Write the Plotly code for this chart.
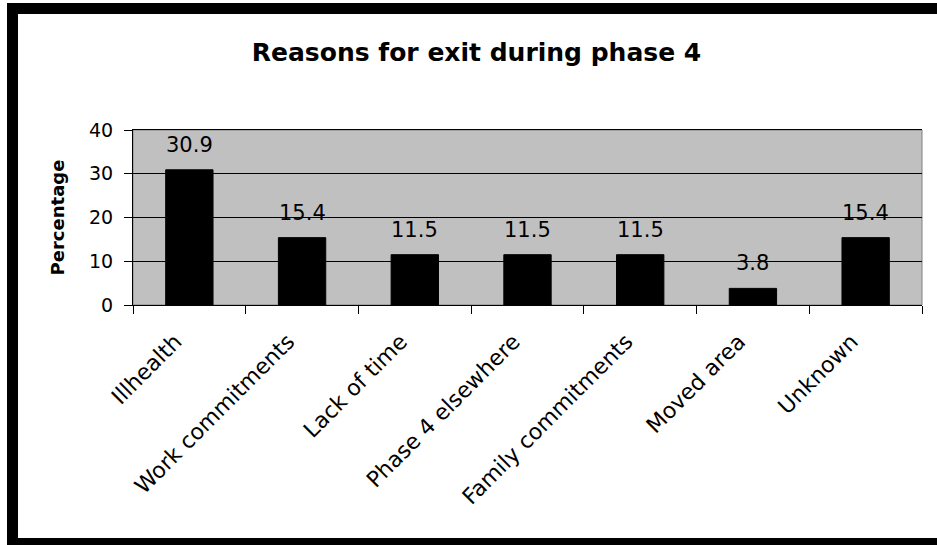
import plotly.graph_objects as go

categories = ["Illhealth", "Work commitments", "Lack of time", "Phase 4 elsewhere",
              "Family commitments", "Moved area", "Unknown"]
percentages = [30.9, 15.4, 11.5, 11.5, 11.5, 3.8, 15.4]
y_ticks = [0, 10, 20, 30, 40]
title_text = "Reasons for exit during phase 4"
y_title = "Percentage"

W, H = 937, 545
L, R, T, B = 133, 15, 130, 240
PW, PH = W - L - R, H - T - B
FONT = "DejaVu Sans"


def px_x(px):
    return (px - L) / PW


def px_y(py):
    return (H - B - py) / PH


fig = go.Figure()
fig.add_trace(go.Bar(
    x=categories, y=percentages,
    marker=dict(color="black", line=dict(color="black", width=1)),
    width=0.42, showlegend=False, hoverinfo="x+y",
))

annotations = []
for c, v in zip(categories, percentages):
    annotations.append(dict(
        x=c, y=v, xref="x", yref="y", text=f"{v:.1f}", showarrow=False,
        yanchor="bottom", yshift=11,
        font=dict(family=FONT, size=21, color="black"),
    ))

shapes = [
    # plot-area frame (grey right edge)
    dict(type="rect", xref="paper", yref="paper", x0=0, x1=1, y0=0, y1=1,
         line=dict(color="#808080", width=1), layer="below"),
    # outer black frame of the chart
    dict(type="rect", xref="paper", yref="paper", x0=px_x(7), x1=px_x(18),
         y0=px_y(560), y1=px_y(3), fillcolor="black", line=dict(width=0)),
    dict(type="rect", xref="paper", yref="paper", x0=px_x(7), x1=px_x(960),
         y0=px_y(14), y1=px_y(3), fillcolor="black", line=dict(width=0)),
    dict(type="rect", xref="paper", yref="paper", x0=px_x(7), x1=px_x(960),
         y0=px_y(560), y1=px_y(538), fillcolor="black", line=dict(width=0)),
]

fig.update_layout(
    width=W, height=H,
    margin=dict(l=L, r=R, t=T, b=B, autoexpand=False),
    paper_bgcolor="white", plot_bgcolor="#C0C0C0",
    font=dict(family=FONT, color="black"),
    title=dict(text=f"<b>{title_text}</b>", x=476.5 / W, xref="container", xanchor="center",
               y=1 - 52.5 / H, yref="container", yanchor="middle",
               font=dict(family=FONT, size=25, color="black")),
    bargap=0.58,
    annotations=annotations,
    shapes=shapes,
    showlegend=False,
)
fig.update_xaxes(
    type="category", tickangle=-45, tickson="boundaries",
    ticks="outside", ticklen=8, tickwidth=1, tickcolor="black",
    showline=True, linecolor="black", linewidth=1, mirror=True,
    showgrid=False, ticklabelstandoff=14, ticklabelshift=-14,
    tickfont=dict(family=FONT, size=22, color="black"),
)
fig.update_yaxes(
    range=[0, 40], tickvals=y_ticks, ticks="outside", ticklen=8, tickwidth=1,
    tickcolor="black", showline=True, linecolor="black", linewidth=1,
    showgrid=True, gridcolor="black", gridwidth=1, zeroline=False,
    ticklabelstandoff=7,
    tickfont=dict(family=FONT, size=19, color="black"),
    title=dict(text=f"<b>{y_title}</b>", standoff=19, font=dict(family=FONT, size=18, color="black")),
)

fig.write_html("out.html", config={"displayModeBar": False},
               post_script="document.body.style.margin='0';")
